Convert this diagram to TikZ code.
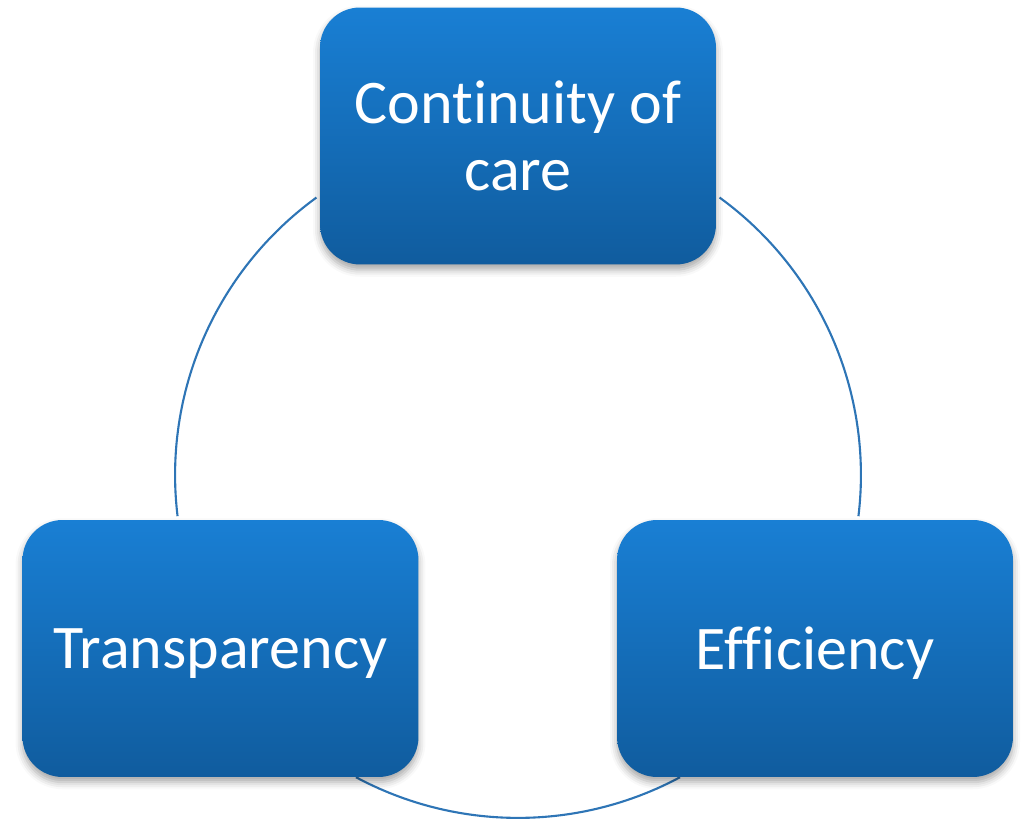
\documentclass[tikz,border=0pt]{standalone}
\usepackage{fontspec}
\setmainfont[RawFeature={-liga;-dlig;-clig}]{Carlito}
\usetikzlibrary{shadows.blur}
\definecolor{boxtop}{RGB}{25,127,212}
\definecolor{boxbottom}{RGB}{16,92,158}
\definecolor{ringline}{RGB}{46,117,182}
% break the ligatures the font would otherwise form
\newcommand{\nolig}{\kern0pt\relax}
\tikzset{
  cyclebox/.style={
    rectangle, rounded corners=0.8cm,
    minimum width=7.92cm, minimum height=5.14cm,
    top color=boxtop, bottom color=boxbottom, draw=none,
    text=white, align=center,
    font=\fontsize{35.3}{38.2}\selectfont,
    blur shadow={shadow xshift=0pt, shadow yshift=-3pt,
                 shadow blur radius=4pt, shadow opacity=35}
  },
  oneline/.style={text depth=0pt},
  ring/.style={draw=ringline, line width=1.2pt}
}
\begin{document}
\begin{tikzpicture}[x=0.02cm, y=0.02cm]
  \useasboundingbox (0,0) rectangle (1028,820);
  % centre of the cycle
  \coordinate (c) at (518,345);
  % ring segments between the three boxes
  \draw[ring] (c) ++(126:6.86cm) arc[start angle=126, end angle=186.9, radius=6.86cm];
  \draw[ring] (c) ++(241.8:6.86cm) arc[start angle=241.8, end angle=298.2, radius=6.86cm];
  \draw[ring] (c) ++(353.1:6.86cm) arc[start angle=353.1, end angle=414, radius=6.86cm];
  % boxes
  \node[cyclebox] (care) at (518,684) {Cont\nolig inuity of\\care};
  \node[cyclebox, oneline] (transp) at (220.5,171.5) {Transparency};
  \node[cyclebox, oneline] (effic) at (815,171.5) {Ef\nolig f\nolig iciency};
\end{tikzpicture}
\end{document}
